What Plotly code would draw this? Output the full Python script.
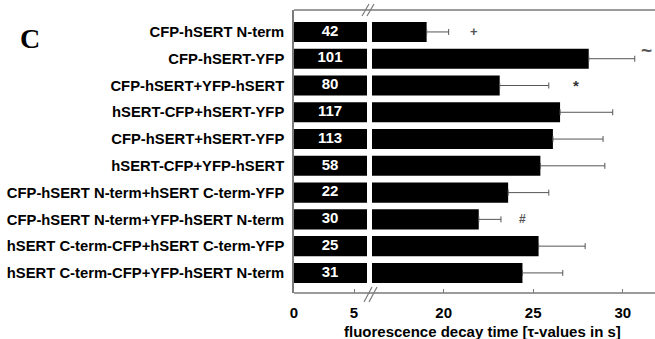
import plotly.graph_objects as go

labels = [
    "CFP-hSERT N-term",
    "CFP-hSERT-YFP",
    "CFP-hSERT+YFP-hSERT",
    "hSERT-CFP+hSERT-YFP",
    "CFP-hSERT+hSERT-YFP",
    "hSERT-CFP+YFP-hSERT",
    "CFP-hSERT N-term+hSERT C-term-YFP",
    "CFP-hSERT N-term+YFP-hSERT N-term",
    "hSERT C-term-CFP+hSERT C-term-YFP",
    "hSERT C-term-CFP+YFP-hSERT N-term",
]
tau = [19.05, 28.1, 23.13, 26.5, 26.1, 25.4, 23.6, 21.96, 25.3, 24.4]
err = [1.23, 2.57, 2.74, 2.94, 2.8, 3.6, 2.27, 1.24, 2.6, 2.25]
n_cells = [42, 101, 80, 117, 113, 58, 22, 30, 25, 31]
sig_marks = ["+", "~", "*", "", "", "", "", "#", "", ""]
sig_x = [21.7, 31.35, 27.4, None, None, None, None, 24.4, None, None]

pos = list(range(len(labels)))

FONT = "Liberation Sans"
LINE = "#7a7a7a"

# plot area in pixels
L, R, T, B = 294, 655, 10, 293
W, H = R - L, B - T
def px(p):
    return (p - L) / W
def py(p):
    return (B - p) / H

fig = go.Figure()
fig.add_trace(go.Bar(x=tau, y=pos, orientation="h", xaxis="x", yaxis="y",
                     marker=dict(color="black", line=dict(width=0)), width=0.75,
                     showlegend=False, hoverinfo="skip"))
fig.add_trace(go.Bar(x=tau, y=pos, orientation="h", xaxis="x2", yaxis="y",
                     marker=dict(color="black", line=dict(width=0)), width=0.75,
                     error_x=dict(type="data", array=err, arrayminus=[0]*len(err),
                                  symmetric=False, color="#555555", thickness=1, width=3),
                     showlegend=False, hoverinfo="skip"))
fig.add_trace(go.Scatter(x=[3.0]*len(pos), y=pos, mode="text", xaxis="x", yaxis="y",
                         text=[str(v) for v in n_cells],
                         textfont=dict(family=FONT, size=15, color="white", weight="bold"),
                         showlegend=False, hoverinfo="skip"))

annotations = []
sig_size = {"+": 13, "~": 19, "*": 15, "#": 12}
for i, (m, xv) in enumerate(zip(sig_marks, sig_x)):
    if m:
        annotations.append(dict(x=xv, y=i - (0.3 if m == "~" else 0), xref="x2", yref="y",
                                text=m, showarrow=False, xanchor="center", yanchor="middle",
                                font=dict(family=FONT, size=sig_size[m],
                                          color="#333333" if m == "*" else "#555555",
                                          weight="bold")))
annotations.append(dict(x=px(30), y=py(38), xref="paper", yref="paper", text="C",
                        showarrow=False, xanchor="center", yanchor="middle",
                        font=dict(family="Liberation Serif", size=28, color="black", weight="bold")))
annotations.append(dict(x=px(482), y=py(331), xref="paper", yref="paper",
                        text="fluorescence decay time [τ-values in s]", showarrow=False,
                        xanchor="center", yanchor="middle",
                        font=dict(family=FONT, size=15, color="black", weight="bold")))

shapes = [
    dict(type="line", xref="paper", yref="paper", x0=0, x1=1, y0=1, y1=1,
         line=dict(color=LINE, width=1.5)),
    dict(type="line", xref="paper", yref="paper", x0=0, x1=1, y0=0, y1=0,
         line=dict(color=LINE, width=1.5)),
]
# break marks
for dx in (0, 5):
    shapes.append(dict(type="line", xref="paper", yref="paper",
                       x0=px(362 + dx), y0=py(16), x1=px(369 + dx), y1=py(4),
                       line=dict(color=LINE, width=1.2)))
    shapes.append(dict(type="line", xref="paper", yref="paper",
                       x0=px(364 + dx), y0=py(302), x1=px(372 + dx), y1=py(287),
                       line=dict(color=LINE, width=1.2)))

tickfont = dict(family=FONT, size=15, color="black", weight="bold")
ytickfont = dict(family=FONT, size=14.8, color="black", weight="bold")
fig.update_layout(
    width=655, height=339,
    margin=dict(l=L, r=655 - R, t=T, b=339 - B),
    paper_bgcolor="white", plot_bgcolor="white",
    barmode="overlay",
    xaxis=dict(domain=[0, px(367)], range=[0, 6.08], tickvals=[0, 5],
               ticks="inside", ticklen=4, tickcolor=LINE, showline=False,
               showgrid=False, zeroline=False, tickfont=tickfont, anchor="y",
               ticklabelstandoff=9),
    xaxis2=dict(domain=[px(372), 1], range=[16, 31.8], tickvals=[20, 25, 30],
                ticks="inside", ticklen=4, tickcolor=LINE, showline=False,
                showgrid=False, zeroline=False, tickfont=tickfont, anchor="y",
                ticklabelstandoff=9),
    yaxis=dict(tickvals=pos, ticktext=labels, range=[9.75, -0.82],
               showline=True, linecolor=LINE, linewidth=1.5,
               ticks="outside", ticklen=5, tickcolor="rgba(0,0,0,0)",
               showgrid=False, zeroline=False, tickfont=ytickfont),
    annotations=annotations,
    shapes=shapes,
)

fig.write_html("out.html", config={"displayModeBar": False},
               post_script="document.body.style.margin='0px';document.body.style.overflow='hidden';")
